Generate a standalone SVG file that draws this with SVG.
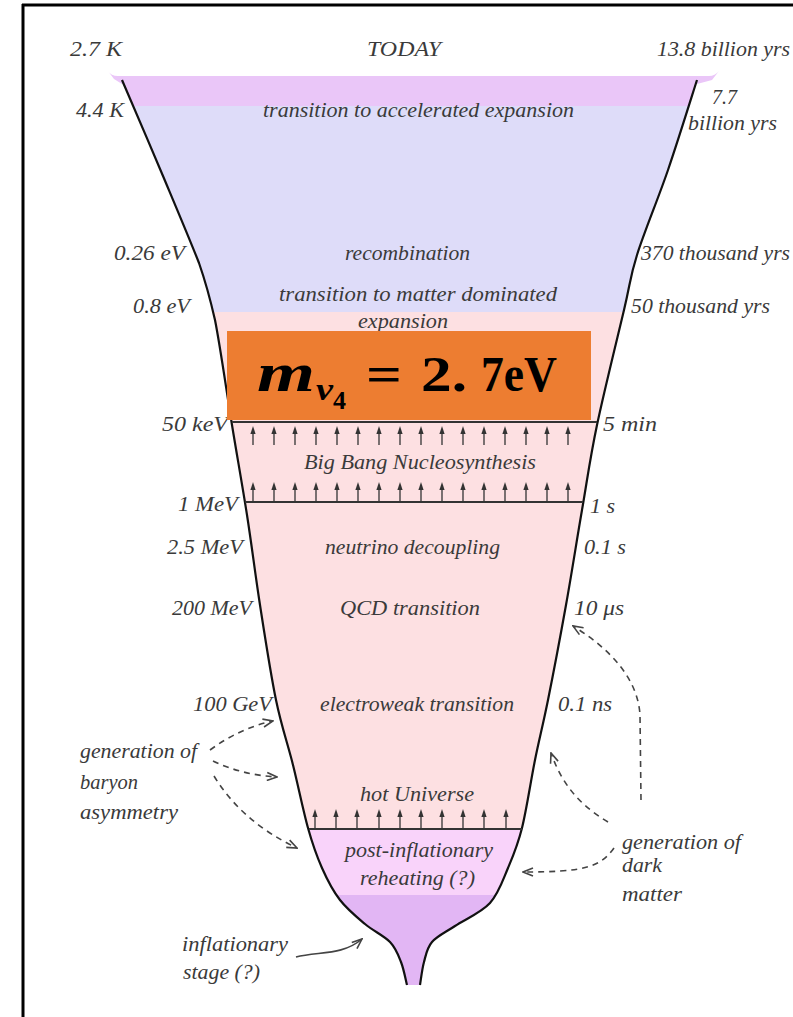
<svg xmlns="http://www.w3.org/2000/svg" width="793" height="1017" viewBox="0 0 793 1017">
<style>
.t{font-family:"Liberation Serif","DejaVu Serif",serif;font-style:italic;font-size:22px;fill:#3a3a3a}
.o{fill:none;stroke:#111;stroke-width:2.2}
.d{fill:none;stroke:#444;stroke-width:1.6;stroke-dasharray:6 5;marker-end:url(#ah)}
.s{fill:none;stroke:#444;stroke-width:1.6;marker-end:url(#ah)}
.hl{stroke:#333;stroke-width:1.8}
.m{font-family:"Liberation Serif","DejaVu Serif",serif;font-weight:bold;fill:#000}
</style>
<defs>
<marker id="ah" viewBox="0 0 12 10" refX="11" refY="5" markerWidth="12" markerHeight="10" markerUnits="userSpaceOnUse" orient="auto"><path d="M1,1 L11,5 L1,9" fill="none" stroke="#444" stroke-width="1.6"/></marker>
<g id="up"><line x1="0" y1="0" x2="0" y2="-14" stroke="#333" stroke-width="1.3"/><path d="M0,-19 L2.6,-11 L-2.6,-11 Z" fill="#333"/></g>
<clipPath id="funnel"><path d="M122,80 C129.2,96.7 150,145 163,176 C176,207 190,240 199,263 C207,286 210,298 215,320 C220.3,346.7 226.7,392.5 232,425 C237.3,457.5 242.3,485 247,515 C251.7,545 255.2,574.2 260,605 C264.8,635.8 270.5,673.3 276,700 C281.5,726.7 287.7,743.7 293,765 C298.3,786.3 303.2,810.8 308,828 C312.8,845.2 316.7,856 322,868 C327.3,880 332.8,890.7 340,900 C347.2,909.3 356.7,917 365,924 C373.3,931 384,935.7 390,942 C396,948.3 398.2,954.8 401,962 C403.8,969.2 406,981.2 407,985 L420,985 C420.7,981.2 422,969.2 424,962 C426,954.8 426.8,948 432,942 C437.2,936 445.3,932.5 455,926 C464.7,919.5 481.2,912.7 490,903 C498.8,893.3 502.7,880.5 508,868 C513.3,855.5 517.5,846 522,828 C526.5,810 530.7,781.3 535,760 C539.3,738.7 542.8,725.8 548,700 C553.2,674.2 560.3,636.7 566,605 C571.7,573.3 576.8,540 582,510 C587.2,480 590,458.3 597,425 C604,391.7 617.3,338.3 624,310 C630.7,281.7 629.7,278.3 637,255 C644.3,231.7 658,199.2 668,170 C678,140.8 692.2,95 697,80 Z"/></clipPath>
</defs>
<rect width="793" height="1017" fill="#fff"/>
<g id="frame"><line x1="22" y1="5" x2="793" y2="5" stroke="#000" stroke-width="3"/><line x1="23" y1="4" x2="23" y2="1017" stroke="#000" stroke-width="3"/></g>
<g id="funnel-fill" clip-path="url(#funnel)">
<rect x="100" y="70" width="620" height="37" fill="#eac6f8"/>
<rect x="100" y="106" width="620" height="206" fill="#dedcf9"/>
<rect x="100" y="312" width="620" height="517" fill="#fde0e2"/>
<rect x="100" y="829" width="620" height="66" fill="#f9d3fa"/>
<rect x="100" y="895" width="620" height="100" fill="#e2b6f4"/>
</g>
<path id="top-band" d="M108,71 Q111,76 118,76 L709,76 Q715,76 719,71 L712,80 L697,84 L122,84 L114,79 Z" fill="#eac6f8"/>
<g id="outline">
<path class="o" d="M122,80 C129.2,96.7 150,145 163,176 C176,207 190,240 199,263 C207,286 210,298 215,320 C220.3,346.7 226.7,392.5 232,425 C237.3,457.5 242.3,485 247,515 C251.7,545 255.2,574.2 260,605 C264.8,635.8 270.5,673.3 276,700 C281.5,726.7 287.7,743.7 293,765 C298.3,786.3 303.2,810.8 308,828 C312.8,845.2 316.7,856 322,868 C327.3,880 332.8,890.7 340,900 C347.2,909.3 356.7,917 365,924 C373.3,931 384,935.7 390,942 C396,948.3 398.2,954.8 401,962 C403.8,969.2 406,981.2 407,985"/>
<path class="o" d="M697,80 C692.2,95 678,140.8 668,170 C658,199.2 644.3,231.7 637,255 C629.7,278.3 630.7,281.7 624,310 C617.3,338.3 604,391.7 597,425 C590,458.3 587.2,480 582,510 C576.8,540 571.7,573.3 566,605 C560.3,636.7 553.2,674.2 548,700 C542.8,725.8 539.3,738.7 535,760 C530.7,781.3 526.5,810 522,828 C517.5,846 513.3,855.5 508,868 C502.7,880.5 498.8,893.3 490,903 C481.2,912.7 464.7,919.5 455,926 C445.3,932.5 437.2,936 432,942 C426.8,948 426,954.8 424,962 C422,969.2 420.7,981.2 420,985"/>
</g>
<g id="bbn">
<line class="hl" x1="232" y1="422" x2="597" y2="422"/>
<line class="hl" x1="245" y1="502" x2="583" y2="502"/>
<use href="#up" x="253" y="445"/><use href="#up" x="274" y="445"/><use href="#up" x="295" y="445"/><use href="#up" x="316" y="445"/><use href="#up" x="337" y="445"/><use href="#up" x="358" y="445"/><use href="#up" x="379" y="445"/><use href="#up" x="400" y="445"/><use href="#up" x="421" y="445"/><use href="#up" x="442" y="445"/><use href="#up" x="463" y="445"/><use href="#up" x="484" y="445"/><use href="#up" x="505" y="445"/><use href="#up" x="526" y="445"/><use href="#up" x="547" y="445"/><use href="#up" x="568" y="445"/>
<use href="#up" x="253" y="501"/><use href="#up" x="274" y="501"/><use href="#up" x="295" y="501"/><use href="#up" x="316" y="501"/><use href="#up" x="337" y="501"/><use href="#up" x="358" y="501"/><use href="#up" x="379" y="501"/><use href="#up" x="400" y="501"/><use href="#up" x="421" y="501"/><use href="#up" x="442" y="501"/><use href="#up" x="463" y="501"/><use href="#up" x="484" y="501"/><use href="#up" x="505" y="501"/><use href="#up" x="526" y="501"/><use href="#up" x="547" y="501"/><use href="#up" x="568" y="501"/>
</g>
<g id="hot">
<line class="hl" x1="309" y1="829" x2="522" y2="829"/>
<use href="#up" x="315" y="828"/><use href="#up" x="336" y="828"/><use href="#up" x="357" y="828"/><use href="#up" x="379" y="828"/><use href="#up" x="400" y="828"/><use href="#up" x="421" y="828"/><use href="#up" x="442" y="828"/><use href="#up" x="463" y="828"/><use href="#up" x="484" y="828"/><use href="#up" x="506" y="828"/>
</g>
<g id="labels">
<text class="t" x="70" y="56" textLength="52" lengthAdjust="spacingAndGlyphs">2.7 K</text>
<text class="t" x="367" y="56" textLength="74" lengthAdjust="spacingAndGlyphs">TODAY</text>
<text class="t" x="657" y="56" textLength="133" lengthAdjust="spacingAndGlyphs">13.8 billion yrs</text>
<text class="t" x="76" y="117" textLength="48" lengthAdjust="spacingAndGlyphs">4.4 K</text>
<text class="t" x="263" y="117" textLength="311" lengthAdjust="spacingAndGlyphs">transition to accelerated expansion</text>
<text class="t" x="712" y="104" textLength="25" lengthAdjust="spacingAndGlyphs">7.7</text>
<text class="t" x="688" y="130" textLength="89" lengthAdjust="spacingAndGlyphs">billion yrs</text>
<text class="t" x="114" y="260" textLength="71" lengthAdjust="spacingAndGlyphs">0.26 eV</text>
<text class="t" x="345" y="260" textLength="125" lengthAdjust="spacingAndGlyphs">recombination</text>
<text class="t" x="641" y="260" textLength="149" lengthAdjust="spacingAndGlyphs">370 thousand yrs</text>
<text class="t" x="133" y="313" textLength="57" lengthAdjust="spacingAndGlyphs">0.8 eV</text>
<text class="t" x="279" y="301" textLength="278" lengthAdjust="spacingAndGlyphs">transition to matter dominated</text>
<text class="t" x="358" y="328" textLength="90" lengthAdjust="spacingAndGlyphs">expansion</text>
<text class="t" x="631" y="313" textLength="139" lengthAdjust="spacingAndGlyphs">50 thousand yrs</text>
<text class="t" x="162" y="431" textLength="66" lengthAdjust="spacingAndGlyphs">50 keV</text>
<text class="t" x="603" y="431" textLength="54" lengthAdjust="spacingAndGlyphs">5 min</text>
<text class="t" x="304" y="469" textLength="232" lengthAdjust="spacingAndGlyphs">Big Bang Nucleosynthesis</text>
<text class="t" x="178" y="511" textLength="60" lengthAdjust="spacingAndGlyphs">1 MeV</text>
<text class="t" x="590" y="513" textLength="25" lengthAdjust="spacingAndGlyphs">1 s</text>
<text class="t" x="167" y="554" textLength="76" lengthAdjust="spacingAndGlyphs">2.5 MeV</text>
<text class="t" x="325" y="554" textLength="175" lengthAdjust="spacingAndGlyphs">neutrino decoupling</text>
<text class="t" x="584" y="554" textLength="42" lengthAdjust="spacingAndGlyphs">0.1 s</text>
<text class="t" x="172" y="615" textLength="80" lengthAdjust="spacingAndGlyphs">200 MeV</text>
<text class="t" x="340" y="615" textLength="140" lengthAdjust="spacingAndGlyphs">QCD transition</text>
<text class="t" x="574" y="615" textLength="50" lengthAdjust="spacingAndGlyphs">10 μs</text>
<text class="t" x="193" y="711" textLength="79" lengthAdjust="spacingAndGlyphs">100 GeV</text>
<text class="t" x="320" y="711" textLength="194" lengthAdjust="spacingAndGlyphs">electroweak transition</text>
<text class="t" x="558" y="711" textLength="54" lengthAdjust="spacingAndGlyphs">0.1 ns</text>
<text class="t" x="80" y="758" textLength="117" lengthAdjust="spacingAndGlyphs">generation of</text>
<text class="t" x="80" y="789" textLength="58" lengthAdjust="spacingAndGlyphs">baryon</text>
<text class="t" x="80" y="819" textLength="98" lengthAdjust="spacingAndGlyphs">asymmetry</text>
<text class="t" x="360" y="801" textLength="114" lengthAdjust="spacingAndGlyphs">hot Universe</text>
<text class="t" x="345" y="857" textLength="148" lengthAdjust="spacingAndGlyphs">post-inflationary</text>
<text class="t" x="360" y="885" textLength="115" lengthAdjust="spacingAndGlyphs">reheating (?)</text>
<text class="t" x="622" y="849" textLength="119" lengthAdjust="spacingAndGlyphs">generation of</text>
<text class="t" x="622" y="872" textLength="40" lengthAdjust="spacingAndGlyphs">dark</text>
<text class="t" x="622" y="901" textLength="60" lengthAdjust="spacingAndGlyphs">matter</text>
<text class="t" x="182" y="951" textLength="106" lengthAdjust="spacingAndGlyphs">inflationary</text>
<text class="t" x="183" y="979" textLength="77" lengthAdjust="spacingAndGlyphs">stage (?)</text>
</g>
<g id="connectors">
<path class="d" d="M210,750 Q240,728 273,721"/>
<path class="d" d="M213,761 Q242,775 277,777"/>
<path class="d" d="M214,776 Q242,822 297,848"/>
<path class="d" d="M641,800 L640,715 C638,680 612,650 573,626"/>
<path class="d" d="M608,822 C585,808 564,790 551,753"/>
<path class="d" d="M614,848 C600,868 582,872 523,872"/>
<path class="s" d="M296,957 C318,951 342,956 362,939"/>
</g>
<g id="mass-box">
<rect x="227" y="331" width="364" height="89" fill="#ed7d31"/>
<text class="m" x="257" y="391" font-size="54" font-style="italic" textLength="58" lengthAdjust="spacingAndGlyphs">m</text>
<text class="m" x="316" y="400" font-size="32" font-style="italic" textLength="17" lengthAdjust="spacingAndGlyphs">ν</text>
<text class="m" x="333" y="409" font-size="26" textLength="13" lengthAdjust="spacingAndGlyphs">4</text>
<text class="m" x="366" y="391" font-size="50" textLength="36" lengthAdjust="spacingAndGlyphs">=</text>
<text class="m" x="421" y="391" font-size="50" textLength="46" lengthAdjust="spacingAndGlyphs">2.</text>
<text class="m" x="481" y="391" font-size="50" textLength="76" lengthAdjust="spacingAndGlyphs">7eV</text>
</g>
</svg>
